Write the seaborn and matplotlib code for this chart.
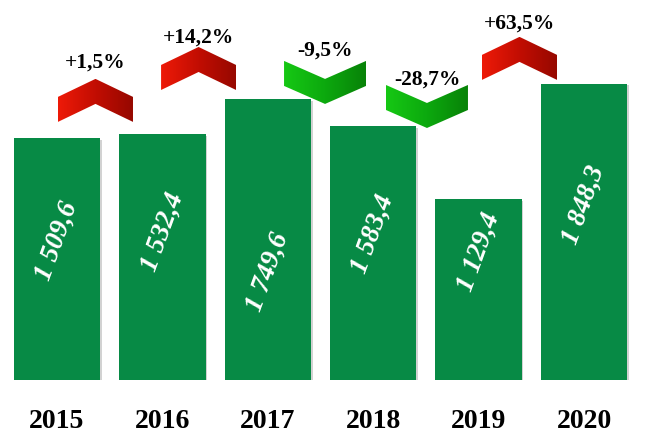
import numpy as np
import pandas as pd
import matplotlib
matplotlib.use("Agg")
import matplotlib.pyplot as plt
import matplotlib.patheffects as pe
from matplotlib.patches import Polygon
import seaborn as sns

# ---- data -------------------------------------------------------------
years = ["2015", "2016", "2017", "2018", "2019", "2020"]
values = [1509.6, 1532.4, 1749.6, 1583.4, 1129.4, 1848.3]
changes = ["+1,5%", "+14,2%", "-9,5%", "-28,7%", "+63,5%"]

# ---- layout -----------------------------------------------------------
value_label_y = [867, 923, 674, 911, 799, 1092]          # where the rotated value sits
chevron_anchor_x = [0.365, 1.343, 2.543, 3.510, 4.388]   # category units
chevron_anchor_y = [1878, 2077, 1990, 1840, 2140]        # top of each chevron
label_gap_px = [16, 9, 10, 5, 13]                        # label centre above chevron top

BAR_COLOR = "#078A45"
W, H, DPI = 662, 434, 100

sns.set_theme(style="white")
plt.rcParams["font.family"] = ["Liberation Serif", "DejaVu Serif"]

fig = plt.figure(figsize=(W / DPI, H / DPI), dpi=DPI)
ax = fig.add_axes([0, 54 / H, 1, 380 / H])

df = pd.DataFrame({"year": years, "value": values})
sns.barplot(data=df, x="year", y="value", color=BAR_COLOR, saturation=1,
            width=0.82, ax=ax)

ax.set_xlim(-0.541, 5.74)
ax.set_ylim(0, 2370)
ax.set_xlabel("")
ax.set_ylabel("")
ax.set_yticks([])
for s in ax.spines.values():
    s.set_visible(False)
ax.tick_params(axis="x", length=0, pad=21, labelsize=20)
for t in ax.get_xticklabels():
    t.set_fontweight("bold")
    t.set_color("black")

for p in ax.patches:
    p.set_linewidth(0)
    p.set_path_effects([pe.SimplePatchShadow(offset=(1.2, -1.2), shadow_rgbFace="#7f7f7f", alpha=0.35),
                        pe.Normal()])

# rotated value labels inside the bars
for i, v in enumerate(values):
    txt = f"{v:,.1f}".replace(",", " ").replace(".", ",")
    ax.text(i, value_label_y[i], txt, rotation=70, ha="center", va="center",
            color="white", fontsize=19.5, fontstyle="italic", fontweight="bold",
            rotation_mode="anchor")

# chevrons with a horizontal colour gradient
fig.canvas.draw()
to_disp = ax.transData.transform
to_data = ax.transData.inverted().transform


def chevron_px(up):
    """Vertices in pixel offsets from the chevron's top-centre."""
    if up:
        w, depth, thick = 75, 18, 25
        hw = w / 2
        return np.array([[0, 0], [hw, -depth], [hw, -depth - thick],
                         [0, -thick], [-hw, -depth - thick], [-hw, -depth]])
    w, depth, thick = 82, 18, 25
    hw = w / 2
    return np.array([[-hw, 0], [0, -depth], [hw, 0], [hw, -thick],
                     [0, -depth - thick], [-hw, -thick]])


red_grad = matplotlib.colors.LinearSegmentedColormap.from_list(
    "redgrad", ["#ee1a08", "#c20d02", "#960800"])
green_grad = matplotlib.colors.LinearSegmentedColormap.from_list(
    "greengrad", ["#16c814", "#0ca90e", "#088208"])

for k, lab in enumerate(changes):
    up = lab.startswith("+")
    ax_disp = to_disp((chevron_anchor_x[k], chevron_anchor_y[k]))
    verts = to_data(chevron_px(up) + ax_disp)
    poly = Polygon(verts, closed=True, facecolor="none", edgecolor="none")
    ax.add_patch(poly)
    x0, x1 = verts[:, 0].min(), verts[:, 0].max()
    y0, y1 = verts[:, 1].min(), verts[:, 1].max()
    grad = np.linspace(0, 1, 256).reshape(1, -1)
    im = ax.imshow(grad, cmap=red_grad if up else green_grad,
                   extent=(x0, x1, y0, y1), aspect="auto", origin="lower",
                   zorder=3, interpolation="bilinear")
    im.set_clip_path(poly)
    lx, ly = to_data(ax_disp + np.array([0, label_gap_px[k]]))
    ax.text(lx, ly, lab, ha="center", va="center", fontsize=15.5,
            fontweight="bold", color="black", zorder=4)

ax.set_xlim(-0.541, 5.74)
ax.set_ylim(0, 2370)

fig.savefig("out.png", dpi=DPI, facecolor="white")
